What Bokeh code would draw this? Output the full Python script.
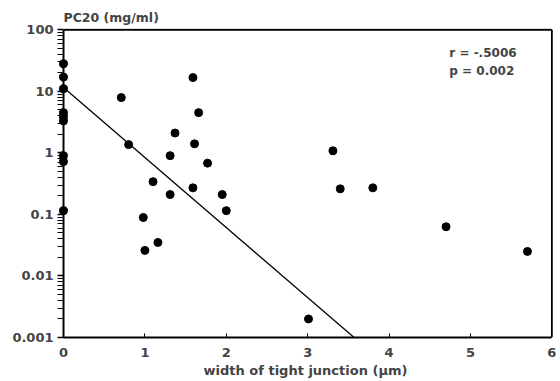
from bokeh.plotting import figure
from bokeh.models import FixedTicker, Label, ColumnDataSource
from bokeh.embed import file_html
from bokeh.resources import INLINE

# data
width_um = [0, 0, 0, 0, 0, 0, 0, 0, 0,
            0.71, 0.80, 0.98, 1.00, 1.10, 1.16, 1.31, 1.31, 1.37,
            1.59, 1.66, 1.61, 1.77, 1.59, 1.95, 2.00,
            3.01, 3.31, 3.40, 3.80, 4.70, 5.70]
pc20 = [28, 17, 11, 4.5, 3.9, 3.3, 0.9, 0.72, 0.115,
        7.9, 1.36, 0.089, 0.026, 0.34, 0.035, 0.9, 0.21, 2.1,
        16.7, 4.5, 1.4, 0.68, 0.27, 0.21, 0.115,
        0.002, 1.08, 0.26, 0.27, 0.063, 0.025]
fit_x = [0, 3.57]
fit_y = [11.5, 0.001]
x_ticks = [0, 1, 2, 3, 4, 5, 6]
y_ticks = [0.001, 0.01, 0.1, 1, 10, 100]
y_tick_labels = ["0.001", "0.01", "0.1", "1", "10", "100"]
stats_text = ["r = -.5006", "p = 0.002"]

FONT = "DejaVu Sans"

p = figure(width=560, height=381, y_axis_type="log",
           x_range=(-0.0738, 6.02), y_range=(0.001, 10 ** 2.02),
           output_backend="svg", toolbar_location=None,
           min_border_left=57, min_border_right=7,
           min_border_top=28, min_border_bottom=44)
p.grid.visible = False
p.outline_line_color = None
p.background_fill_color = "white"
p.border_fill_color = "white"

p.title.text = "PC20 (mg/ml)"
p.title.align = "left"
p.title.text_font = FONT
p.title.text_font_size = "12.5px"
p.title.text_font_style = "bold"
p.title.standoff = 8
p.title.offset = 6

minor = []
for d in [0.001, 0.01, 0.1, 1, 10]:
    for k in range(2, 10):
        minor.append(d * k)

ya = p.yaxis[0]
ya.bounds = (0.001, 100)
ya.ticker = FixedTicker(ticks=y_ticks, minor_ticks=minor)
ya.major_label_overrides = {t: s for t, s in zip(y_ticks, y_tick_labels)}
ya.axis_line_color = None
ya.major_tick_out = 0
ya.major_tick_in = 6
ya.minor_tick_out = 0
ya.minor_tick_in = 5
ya.major_tick_line_width = 1.3
ya.minor_tick_line_width = 1
ya.major_label_text_font = FONT
ya.major_label_text_font_size = "13px"
ya.major_label_text_font_style = "bold"
ya.major_label_standoff = 4

xa = p.xaxis[0]
xa.bounds = (0, 6)
xa.ticker = FixedTicker(ticks=x_ticks, minor_ticks=[])
xa.major_tick_out = 0
xa.major_tick_in = 4
xa.axis_line_width = 2
xa.major_label_text_font = FONT
xa.major_label_text_font_size = "13px"
xa.major_label_text_font_style = "bold"
xa.major_label_standoff = 10
xa.axis_label = "width of tight junction (\u03bcm)"
xa.axis_label_text_font = FONT
xa.axis_label_text_font_size = "13px"
xa.axis_label_text_font_style = "bold"
xa.axis_label_standoff = 3

# axis line at x = 0 and frame lines (top and right) at the data limits
p.line([0, 0], [0.001, 100], line_color="black", line_width=2)
p.line([0, 6], [100, 100], line_color="black", line_width=1.8)
p.line([6, 6], [0.001, 100], line_color="black", line_width=1.8)

src = ColumnDataSource(dict(x=width_um, y=pc20))
p.line(fit_x, fit_y, line_color="black", line_width=1.3)
p.scatter("x", "y", source=src, size=8, fill_color="black", line_color="black")

for i, t in enumerate(stats_text):
    p.add_layout(Label(x=4.74, y=10 ** (1.627 - 0.305 * i), text=t,
                       text_font=FONT, text_font_size="12px",
                       text_font_style="bold", text_baseline="middle",
                       text_align="left"))

open("out.html", "w").write(file_html(p, INLINE))
